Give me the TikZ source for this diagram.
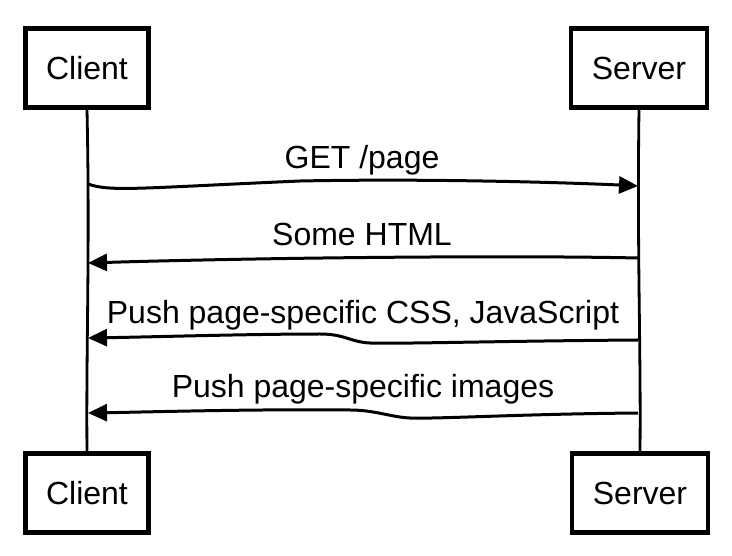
\documentclass[tikz,border=0pt]{standalone}
\usepackage{fontspec}
\setmainfont{Liberation Sans}
\usetikzlibrary{positioning,arrows.meta}
\tikzset{
  actor/.style    = {draw, line width=4.2pt, fill=white, inner xsep=20.5pt,
                     minimum height=79pt, font=\fontsize{32}{38}\selectfont},
  lifeline/.style = {line width=2.8pt},
  msg/.style      = {-{Triangle[length=19pt,width=17pt]}, line width=3pt},
  msglabel/.style = {anchor=base, inner sep=0pt, font=\fontsize{32}{38}\selectfont},
}
\begin{document}
\begin{tikzpicture}[x=1pt,y=-1pt]
  \useasboundingbox (0,0) rectangle (732,556);
  \node[actor] (ctop) at (87,68) {Client};
  \node[actor] (stop) at (639,68) {Server};
  \node[actor] (cbot) at (87,493) {Client};
  \node[actor] (sbot) at (640,493) {Server};
  % lifelines
  \draw[lifeline] (ctop.south) .. controls (90,250) and (86,350) .. (cbot.north);
  \draw[lifeline] (stop.south) .. controls (637,250) and (641,350) .. (sbot.north);
  % message ends
  \coordinate (c1) at (88,184);  \coordinate (s1) at (638,186);
  \coordinate (c2) at (88,263);  \coordinate (s2) at (638,258);
  \coordinate (c3) at (88,338);  \coordinate (s3) at (638,340);
  \coordinate (c4) at (88,413);  \coordinate (s4) at (638,413);
  \node[msglabel] (lget)  at (362,169) {GET /page};
  \node[msglabel] (lhtml) at (362,246) {Some HTML};
  \node[msglabel] (lcss)  at (363,324) {Push page-specific CSS, JavaScript};
  \node[msglabel] (limg)  at (363,398) {Push page-specific images};
  \draw[msg] (c1) .. controls (110,192) and (140,188) .. (300,181)
                  .. controls (450,178) and (600,184) .. (s1);
  \draw[msg] (s2) .. controls (500,255) and (250,258) .. (c2);
  \draw[msg] (s3) .. controls (500,341) and (400,344) .. (370,343)
                  .. controls (350,342) and (345,334) .. (320,334)
                  .. controls (250,334) and (150,337) .. (c3);
  \draw[msg] (s4) .. controls (520,414) and (440,419) .. (410,418)
                  .. controls (390,417) and (375,410) .. (350,410)
                  .. controls (250,409) and (150,412) .. (c4);
\end{tikzpicture}
\end{document}
